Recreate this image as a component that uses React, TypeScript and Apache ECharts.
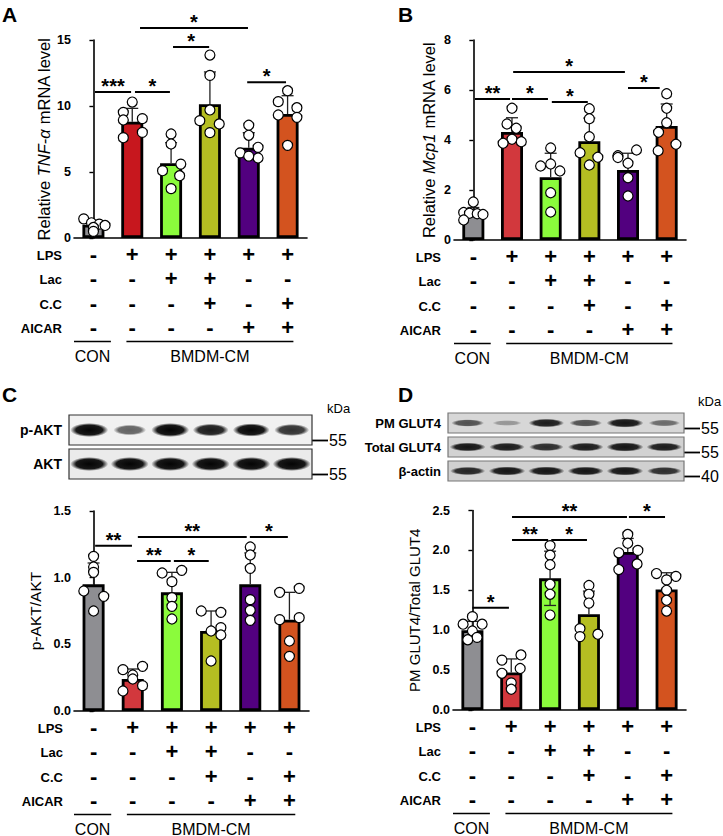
import React, { useEffect, useRef } from 'react';
import * as echarts from 'echarts';

// ---------- shared categories / table ----------
const categories = ['CON', 'LPS', 'LPS+Lac', 'LPS+Lac+C.C', 'LPS+AICAR', 'LPS+C.C+AICAR'];
const rowNames = ['LPS', 'Lac', 'C.C', 'AICAR'];
const treatment = [
  [0, 1, 1, 1, 1, 1],
  [0, 0, 1, 1, 0, 0],
  [0, 0, 0, 1, 0, 1],
  [0, 0, 0, 0, 1, 1],
];
const groupLabels = ['CON', 'BMDM-CM'];
const groupSpans = [[-0.5, 0.45], [0.85, 5.15]];

// ---------- Panel A: TNF-a ----------
const tnfMean = [1.0, 8.81, 5.66, 10.13, 6.84, 9.39];
const tnfSd = [0.3, 1.01, 1.56, 2.45, 1.14, 1.39];
const tnfLow = [0, 0, 0, 0, 0, 0];
const tnfPoints = [
  [1.45, 1.15, 1.05, 0.95, 0.8, 0.5],
  [10.3, 9.52, 9.04, 8.94, 8.0, 7.6],
  [7.88, 7.12, 5.6, 5.1, 4.72, 3.74],
  [13.86, 12.32, 9.7, 8.89, 8.64, 7.98],
  [8.54, 7.78, 6.87, 6.45, 6.06, 6.2],
  [11.16, 10.33, 9.87, 9.32, 9.14, 7.02],
];
const tnfJitter = [
  [-0.25, -0.05, 0.15, 0.3, 0, 0],
  [0, -0.23, 0.26, -0.23, 0.26, -0.23],
  [0, 0, 0.25, -0.22, 0.22, 0],
  [0, 0, 0, -0.26, 0.24, 0],
  [0, 0, 0.24, -0.22, 0.24, 0],
  [0, -0.24, 0.24, -0.24, 0.24, 0],
];
const tnfBrackets = [
  [0.04, 0.97, 11.06, '***'],
  [1.07, 1.97, 11.06, '*'],
  [2.05, 2.98, 14.47, '*'],
  [1.2, 3.98, 15.9, '*'],
  [3.96, 4.96, 11.8, '*'],
];
const colorsA = ['#8e8e92', '#c7171e', '#8bfb3c', '#b5be22', '#52007f', '#d3531f'];

// ---------- Panel B: Mcp1 ----------
const mcpMean = [1.07, 4.32, 2.51, 3.95, 2.8, 4.56];
const mcpSd = [0.23, 0.57, 0.96, 0.93, 0.67, 0.88];
const mcpLow = [0, 0, 0, 0, 0, 0];
const mcpPoints = [
  [1.52, 1.1, 1.07, 1.05, 1.02, 0.8],
  [5.27, 4.64, 4.47, 4.03, 3.93, 3.87],
  [3.68, 3.04, 2.96, 2.76, 1.89, 1.12],
  [5.25, 4.85, 4.13, 3.49, 3.31, 3.0],
  [3.6, 3.37, 3.07, 2.49, 1.76, 3.3],
  [5.85, 5.27, 4.69, 4.31, 3.83, 3.57],
];
const mcpJitter = [
  [0, -0.25, -0.1, 0.1, 0.25, -0.25],
  [0, -0.13, 0.11, 0, 0.24, -0.23],
  [0, 0, -0.26, 0.24, 0, 0],
  [0, 0, 0, -0.24, 0.22, 0],
  [0.22, -0.26, 0, 0, 0, -0.26],
  [0, 0, 0, -0.21, 0.24, -0.22],
];
const mcpBrackets = [
  [0.04, 0.95, 5.64, '**'],
  [1.0, 1.93, 5.64, '*'],
  [2.03, 2.96, 5.52, '*'],
  [1.03, 3.92, 6.72, '*'],
  [4.0, 4.82, 6.08, '*'],
];
const colorsB = ['#8e8e92', '#d2383d', '#8bfb3c', '#b5be22', '#52007f', '#d3531f'];

// ---------- Panel C: p-AKT/AKT ----------
const aktMean = [0.95, 0.24, 0.89, 0.6, 0.95, 0.685];
const aktSd = [0.16, 0.075, 0.15, 0.15, 0.235, 0.205];
const aktLow = [0, 0, 0, 0, 0, 0];
const aktPoints = [
  [1.16, 1.08, 1.04, 0.9, 0.86, 0.75],
  [0.335, 0.31, 0.27, 0.24, 0.19, 0.15],
  [1.055, 1.035, 0.97, 0.85, 0.785, 0.69],
  [0.75, 0.74, 0.625, 0.6, 0.57, 0.375],
  [1.23, 1.17, 1.07, 0.835, 0.755, 0.68],
  [0.92, 0.89, 0.7, 0.685, 0.525, 0.41],
];
const aktJitter = [
  [0, 0, 0, -0.25, 0.26, 0],
  [0.25, -0.25, 0, 0, 0.25, -0.25],
  [0.25, -0.25, 0, 0, 0, 0],
  [-0.25, 0.25, 0.25, 0, 0.25, 0],
  [0, 0, 0, 0, 0, 0],
  [0.25, -0.25, 0.25, -0.25, 0, 0],
];
const aktBrackets = [
  [0.04, 0.98, 1.24, '**'],
  [1.11, 1.97, 1.125, '**'],
  [2.05, 2.94, 1.125, '*'],
  [1.13, 3.91, 1.305, '**'],
  [3.99, 4.96, 1.305, '*'],
];
const colorsC = colorsB;

// ---------- Panel D: PM GLUT4 / Total GLUT4 ----------
const glutMean = [1.0, 0.47, 1.65, 1.2, 1.98, 1.51];
const glutSd = [0.11, 0.17, 0.34, 0.29, 0.17, 0.21];
const glutLow = [0, 0, 1, 0, 0, 0];
const glutPoints = [
  [1.17, 1.075, 1.075, 0.99, 0.91, 0.88],
  [0.69, 0.625, 0.52, 0.46, 0.34, 0.26],
  [2.06, 1.94, 1.82, 1.575, 1.45, 1.19],
  [1.56, 1.45, 1.34, 1.02, 0.95, 0.92],
  [2.2, 2.09, 2.0, 1.97, 1.83, 1.76],
  [1.71, 1.675, 1.63, 1.5, 1.375, 1.24],
];
const glutJitter = [
  [0, -0.24, 0.25, 0, 0.12, -0.12],
  [0.25, -0.24, 0.23, -0.24, 0, 0],
  [0, 0, 0, 0, 0, 0],
  [0, 0, 0, -0.23, 0.23, -0.23],
  [0, 0, 0.26, -0.23, 0.24, -0.23],
  [-0.26, 0.24, 0, 0, 0, 0],
];
const glutBrackets = [
  [0.0, 0.94, 1.28, '*'],
  [1.02, 1.95, 2.13, '**'],
  [2.03, 2.95, 2.13, '*'],
  [1.02, 3.98, 2.42, '**'],
  [4.03, 4.96, 2.42, '*'],
];
const colorsD = colorsB;

// ---------- Western blots (relative band intensity) ----------
const blotCRows = ['p-AKT', 'AKT'];
const blotCBands = [
  [1.0, 0.45, 1.0, 0.78, 0.88, 0.68],
  [1.0, 1.0, 1.0, 1.0, 1.0, 1.0],
];
const blotCMarkers = ['55', '55'];
const blotDRows = ['PM GLUT4', 'Total GLUT4', 'β-actin'];
const blotDBands = [
  [0.55, 0.15, 0.85, 0.55, 1.0, 0.4],
  [0.9, 0.85, 0.75, 0.85, 1.0, 0.85],
  [0.8, 0.95, 0.95, 0.9, 0.95, 0.75],
];
const blotDMarkers = ['55', '55', '40'];

const FONT = 'Liberation Sans, Arial, Helvetica, sans-serif';

export default function App() {
  const ref = useRef<HTMLDivElement>(null);

  useEffect(() => {
    if (!ref.current) return;
    const chart = echarts.init(ref.current, undefined, { renderer: 'svg' });

    const panels = [
      { letter: 'A', mean: tnfMean, sd: tnfSd, low: tnfLow, pts: tnfPoints, jit: tnfJitter, br: tnfBrackets, colors: colorsA, max: 15, interval: 5, dec: 0,
        name: 'Relative {i|TNF-α} mRNA level', nameSize: 16.5, nameGap: 22,
        grid: { left: 74, top: 40, width: 233, height: 198 }, letterPos: [2, 4], rowRight: 62 },
      { letter: 'B', mean: mcpMean, sd: mcpSd, low: mcpLow, pts: mcpPoints, jit: mcpJitter, br: mcpBrackets, colors: colorsB, max: 8, interval: 2, dec: 0,
        name: 'Relative {i|Mcp1} mRNA level', nameSize: 16.5, nameGap: 17,
        grid: { left: 454, top: 40, width: 232, height: 200 }, letterPos: [398, 4], rowRight: 441 },
      { letter: 'C', mean: aktMean, sd: aktSd, low: aktLow, pts: aktPoints, jit: aktJitter, br: aktBrackets, colors: colorsC, max: 1.5, interval: 0.5, dec: 1,
        name: 'p-AKT/AKT', nameSize: 15.5, nameGap: 31,
        grid: { left: 74, top: 511, width: 235, height: 200 }, letterPos: [2, 384], rowRight: 63 },
      { letter: 'D', mean: glutMean, sd: glutSd, low: glutLow, pts: glutPoints, jit: glutJitter, br: glutBrackets, colors: colorsD, max: 2.5, interval: 0.5, dec: 1,
        name: 'PM GLUT4/Total GLUT4', nameSize: 15, nameGap: 31,
        grid: { left: 453, top: 510.5, width: 233, height: 199.5 }, letterPos: [398, 384], rowRight: 441 },
    ];

    const grids: any[] = [];
    const xAxes: any[] = [];
    const yAxes: any[] = [];
    const series: any[] = [];
    const graphics: any[] = [];

    const LINE_H = 24.5;
    const LABEL_MARGIN = 4;

    panels.forEach((p) => {
      grids.push({ ...p.grid, outerBoundsMode: 'none', containLabel: false });
    });
    // category axes 0..3
    panels.forEach((p, k) => {
      xAxes.push({
        type: 'category', gridIndex: k, data: categories,
        axisLine: { lineStyle: { color: '#000', width: 1.6 } },
        axisTick: { alignWithLabel: true, length: 4, lineStyle: { color: '#000', width: 1.4 } },
        axisLabel: {
          interval: 0, margin: LABEL_MARGIN, color: '#000', fontFamily: FONT, fontWeight: 'bold', fontSize: 22, lineHeight: LINE_H,
          formatter: (_v: string, idx: number) => treatment.map((r) => (r[idx] ? '+' : '-')).join('\n'),
        },
        splitLine: { show: false },
      });
    });
    // overlay value axes 4..7
    panels.forEach((p, k) => {
      xAxes.push({ type: 'value', gridIndex: k, min: -0.5, max: 5.5, show: false, splitLine: { show: false } });
    });
    panels.forEach((p, k) => {
      yAxes.push({
        type: 'value', gridIndex: k, min: 0, max: p.max, interval: p.interval,
        name: p.name, nameLocation: 'middle', nameGap: p.nameGap,
        nameTextStyle: { color: '#000', fontFamily: FONT, fontSize: p.nameSize, rich: { i: { fontStyle: 'italic', fontSize: p.nameSize, fontFamily: FONT, color: '#000' } } },
        axisLine: { show: true, lineStyle: { color: '#000', width: 1.6 } },
        axisTick: { show: true, length: 4, lineStyle: { color: '#000', width: 1.4 } },
        axisLabel: { color: '#000', fontFamily: FONT, fontWeight: 'bold', fontSize: 12.5, margin: 3, formatter: (v: number) => v.toFixed(p.dec) },
        splitLine: { show: false },
      });
    });

    panels.forEach((p, k) => {
      // bars
      series.push({
        type: 'bar', xAxisIndex: k, yAxisIndex: k, barWidth: 22, z: 2,
        data: p.mean.map((v, i) => ({ value: v, itemStyle: { color: p.colors[i], borderColor: '#000', borderWidth: 2.8 } })),
      });
      // error bars
      series.push({
        type: 'custom', xAxisIndex: 4 + k, yAxisIndex: k, z: 3, clip: false,
        data: p.mean.map((m, i) => [i, m, p.sd[i], p.low[i]]),
        renderItem: (params: any, api: any) => {
          const x = api.value(0), m = api.value(1), s = api.value(2), lo = api.value(3);
          const top = api.coord([x, m + s]);
          const bot = api.coord([x, lo ? m - s : m]);
          const cw = 6;
          const st = { stroke: '#222', lineWidth: 1.3 };
          const ch: any[] = [
            { type: 'line', shape: { x1: top[0], y1: top[1], x2: bot[0], y2: bot[1] }, style: st },
            { type: 'line', shape: { x1: top[0] - cw, y1: top[1], x2: top[0] + cw, y2: top[1] }, style: st },
          ];
          if (lo) ch.push({ type: 'line', shape: { x1: bot[0] - cw, y1: bot[1], x2: bot[0] + cw, y2: bot[1] }, style: st });
          return { type: 'group', children: ch };
        },
      });
      // points
      const pts: number[][] = [];
      p.pts.forEach((arr, i) => arr.forEach((v, j) => pts.push([i + p.jit[i][j], v])));
      series.push({
        type: 'scatter', xAxisIndex: 4 + k, yAxisIndex: k, z: 4, symbol: 'circle', symbolSize: 10,
        itemStyle: { color: '#fff', borderColor: '#000', borderWidth: 1.2, opacity: 1 },
        data: pts,
      });
      // significance brackets
      const br = p.br;
      series.push({
        type: 'custom', xAxisIndex: 4 + k, yAxisIndex: k, z: 5, clip: false,
        data: br.map((b) => [b[0], b[1], b[2]]),
        renderItem: (params: any, api: any) => {
          const a = api.coord([api.value(0), api.value(2)]);
          const b = api.coord([api.value(1), api.value(2)]);
          const label = br[params.dataIndex][3] as string;
          return {
            type: 'group', children: [
              { type: 'line', shape: { x1: a[0], y1: a[1], x2: b[0], y2: b[1] }, style: { stroke: '#000', lineWidth: 2 } },
              { type: 'text', x: (a[0] + b[0]) / 2, y: a[1] - 6, style: { text: label, textAlign: 'center', textVerticalAlign: 'middle', font: `bold 20px ${FONT}`, fill: '#000' } },
            ],
          };
        },
      });
      // group lines (CON / BMDM-CM)
      series.push({
        type: 'custom', xAxisIndex: 4 + k, yAxisIndex: k, z: 5, clip: false,
        data: groupSpans.map((g) => [g[0], g[1]]),
        renderItem: (params: any, api: any) => {
          const a = api.coord([api.value(0), 0]);
          const b = api.coord([api.value(1), 0]);
          return {
            type: 'group', children: [
              { type: 'line', shape: { x1: a[0], y1: a[1] + 103.5, x2: b[0], y2: a[1] + 103.5 }, style: { stroke: '#000', lineWidth: 1.5 } },
              { type: 'text', x: (a[0] + b[0]) / 2, y: a[1] + 118, style: { text: groupLabels[params.dataIndex], textAlign: 'center', textVerticalAlign: 'middle', font: `16px ${FONT}`, fill: '#000' } },
            ],
          };
        },
      });
      // panel letter and row labels
      graphics.push({ type: 'text', x: p.letterPos[0], y: p.letterPos[1], style: { text: p.letter, font: `bold 21px ${FONT}`, fill: '#000', textVerticalAlign: 'top' } });
      const axisY = p.grid.top + p.grid.height;
      rowNames.forEach((rn, r) => {
        graphics.push({ type: 'text', x: p.rowRight, y: axisY + LABEL_MARGIN + LINE_H * (r + 0.5) + 1, style: { text: rn, font: `bold 13px ${FONT}`, fill: '#000', textAlign: 'right', textVerticalAlign: 'middle' } });
      });
    });

    // ---------- blots ----------
    const blots = [
      { rows: blotCRows, bands: blotCBands, markers: blotCMarkers, grid: { left: 69, top: 413, width: 243, height: 68 }, bg: ['#f1f1f1', '#ebebeb'], border: '#333', rx: 19, ry: 7, ink: 5, labelRight: 62, labelFont: 14, kDa: [327, 408] },
      { rows: blotDRows, bands: blotDBands, markers: blotDMarkers, grid: { left: 448, top: 411, width: 236, height: 72 }, bg: ['#d7d7d7', '#d2d2d2', '#d0d0d0'], border: '#777', rx: 18.5, ry: 4.6, ink: 20, labelRight: 441, labelFont: 13, kDa: [698, 401] },
    ];
    blots.forEach((b, bi) => {
      const gi = 4 + bi;
      grids.push({ ...b.grid, outerBoundsMode: 'none', containLabel: false });
      xAxes.push({ type: 'value', gridIndex: gi, min: -0.5, max: 5.5, show: false, splitLine: { show: false } });
      yAxes.push({ type: 'value', gridIndex: gi, min: 0, max: b.rows.length, inverse: true, show: false, splitLine: { show: false } });
      const xIdx = 8 + bi;
      const yIdx = 4 + bi;
      // boxes
      series.push({
        type: 'custom', xAxisIndex: xIdx, yAxisIndex: yIdx, z: 1, clip: false,
        data: b.rows.map((_r, r) => [0, r]),
        renderItem: (params: any, api: any) => {
          const cs = params.coordSys;
          const r = api.value(1);
          const t = api.coord([0, r])[1] + 2;
          const bt = api.coord([0, r + 1])[1] - 2;
          return { type: 'rect', shape: { x: cs.x, y: t, width: cs.width, height: bt - t }, style: { fill: b.bg[r], stroke: b.border, lineWidth: 1.2 } };
        },
      });
      // bands
      const bandData: number[][] = [];
      b.bands.forEach((row, r) => row.forEach((v, lane) => bandData.push([lane, r, v])));
      series.push({
        type: 'custom', xAxisIndex: xIdx, yAxisIndex: yIdx, z: 2, clip: false,
        data: bandData,
        renderItem: (params: any, api: any) => {
          const c = api.coord([api.value(0), api.value(1) + 0.5]);
          const I = api.value(2);
          const a = Math.min(1, 0.2 + 0.9 * I);
          const col = `${b.ink},${b.ink},${b.ink}`;
          return {
            type: 'ellipse',
            shape: { cx: c[0], cy: c[1], rx: b.rx * (0.75 + 0.25 * I), ry: b.ry * (0.55 + 0.45 * I) },
            style: {
              fill: {
                type: 'radial', x: 0.5, y: 0.5, r: 0.5,
                colorStops: [
                  { offset: 0, color: `rgba(${col},${a})` },
                  { offset: 0.7, color: `rgba(${col},${a * 0.92})` },
                  { offset: 1, color: `rgba(${col},0)` },
                ],
              },
            },
          };
        },
      });
      // labels + markers
      const rowH = b.grid.height / b.rows.length;
      b.rows.forEach((rn, r) => {
        const cy = b.grid.top + rowH * (r + 0.5);
        const boxBottom = b.grid.top + rowH * (r + 1) - 2;
        graphics.push({ type: 'text', x: b.labelRight, y: cy, style: { text: rn, font: `bold ${b.labelFont}px ${FONT}`, fill: '#000', textAlign: 'right', textVerticalAlign: 'middle' } });
        const right = b.grid.left + b.grid.width;
        const my = boxBottom - 4.5;
        graphics.push({ type: 'line', shape: { x1: right, y1: my, x2: right + 16, y2: my }, style: { stroke: '#000', lineWidth: 1.8 } });
        graphics.push({ type: 'text', x: right + 17, y: my, style: { text: b.markers[r], font: `16px ${FONT}`, fill: '#000', textVerticalAlign: 'middle' } });
      });
      graphics.push({ type: 'text', x: b.kDa[0], y: b.kDa[1], style: { text: 'kDa', font: `13px ${FONT}`, fill: '#000', textVerticalAlign: 'middle' } });
    });

    chart.setOption({
      animation: false,
      backgroundColor: '#fff',
      textStyle: { fontFamily: FONT },
      grid: grids,
      xAxis: xAxes,
      yAxis: yAxes,
      series,
      graphic: graphics,
    });

    return () => chart.dispose();
  }, []);

  return <div ref={ref} style={{ position: 'fixed', left: 0, top: 0, width: 723, height: 836 }} />;
}
